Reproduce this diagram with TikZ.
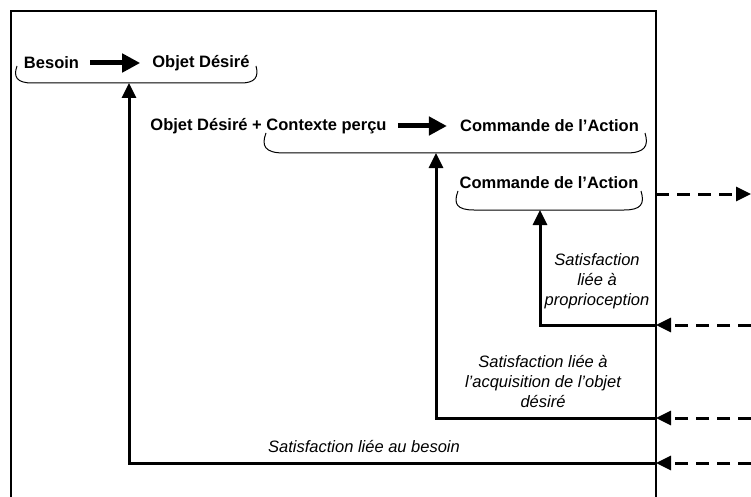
\documentclass[tikz,border=0pt]{standalone}
\usepackage{fontspec}
\setmainfont{Liberation Sans}
\usetikzlibrary{arrows.meta}

\begin{document}
\begin{tikzpicture}[x=1pt,y=-1pt,
  lbl/.style={font=\fontsize{16.5}{20}\selectfont\bfseries,inner sep=2pt},
  sat/.style={font=\fontsize{16.5}{20}\selectfont\itshape,align=center,inner sep=1pt},
  brace/.style={line width=1pt},
  flow/.style={line width=3pt,-{Triangle[length=15pt,width=14pt]}},
  fb/.style={line width=3pt,dash pattern=on 13pt off 8pt,-{Triangle[length=15pt,width=14pt]}},
  big/.style={line width=5pt,-{Triangle[length=18pt,width=18pt]}}]
\useasboundingbox (0,0) rectangle (751,497);
\draw[line width=1.5pt] (11,497) -- (11,11) -- (656,11) -- (656,497);
\node[lbl] (besoin) at (51.5,63) {Besoin};
\node[lbl] (objet) at (201,63) {Objet Désiré};
\draw[big,shorten <=9pt,shorten >=10pt] (besoin) -- (objet);
\draw[brace] (17,66) .. controls (13,77) and (17,83) .. (32,83) -- (241,83) .. controls (255,83) and (259,77) .. (256,66);
\node[lbl] (ctx) at (268.5,126) {Objet Désiré + Contexte perçu};
\node[lbl] (cmdA) at (549.5,126) {Commande de l’Action};
\draw[big,shorten <=9pt,shorten >=11pt] (ctx) -- (cmdA);
\draw[brace] (266,133) .. controls (261,146) and (265,153) .. (284,153) -- (626,153) .. controls (645,153) and (649,146) .. (645,133);
\node[lbl] (cmdB) at (549,183) {Commande de l’Action};
\draw[brace] (458,191) .. controls (453,204) and (457,210) .. (474,210) -- (624,210) .. controls (641,210) and (645,204) .. (641,191);
\coordinate (b1) at (129,83);
\coordinate (b2) at (436,153);
\coordinate (b3) at (540,210);
\coordinate (r1) at (656,463);
\coordinate (r2) at (656,418);
\coordinate (r3) at (656,325);
\coordinate (r0) at (656,194);
\coordinate (e1) at (751,463);
\coordinate (e2) at (751,418);
\coordinate (e3) at (751,325);
\coordinate (e0) at (751,194);
\draw[flow] (r1) -| (b1);
\draw[flow] (r2) -| (b2);
\draw[flow] (r3) -| (b3);
\draw[fb] (e1) -- (r1);
\draw[fb] (e2) -- (r2);
\draw[fb] (e3) -- (r3);
\draw[fb] (r0) -- (e0);
\node[sat] (sprop) at (597,281) {Satisfaction\\liée à\\proprioception};
\node[sat] (sacq) at (543,382) {Satisfaction liée à\\l’acquisition de l’objet\\désiré};
\node[sat] (sbes) at (364,447) {Satisfaction liée au besoin};
\end{tikzpicture}
\end{document}
